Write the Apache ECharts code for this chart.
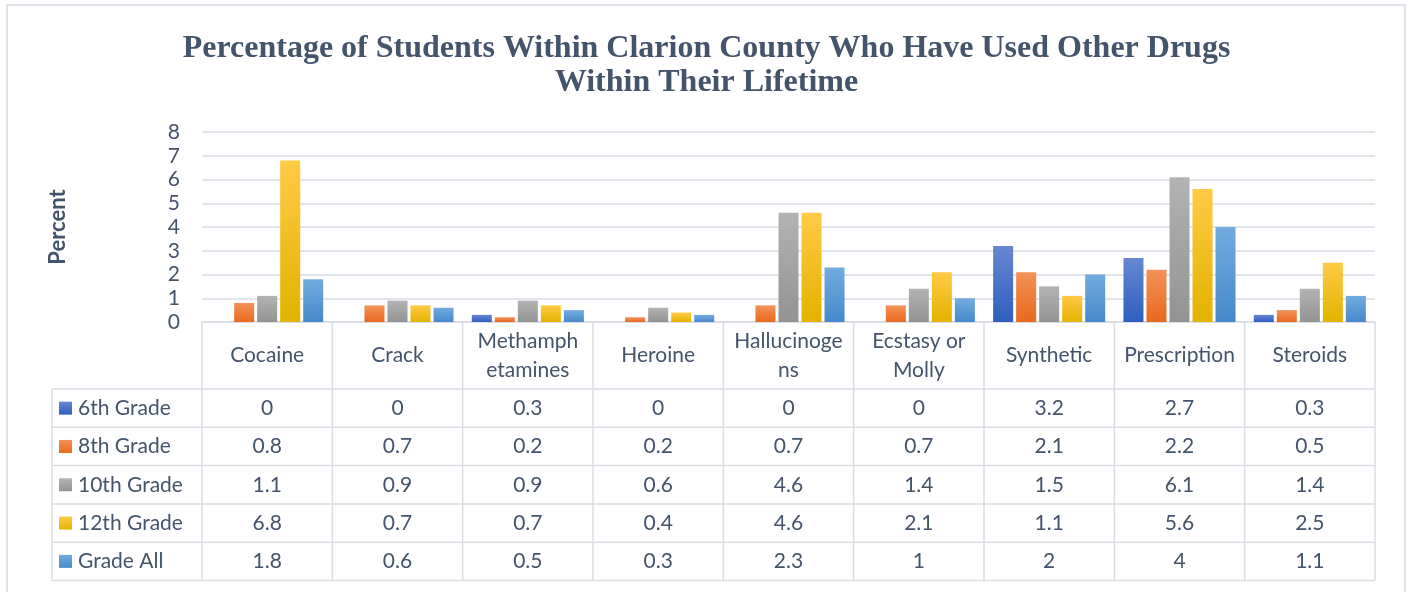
<!DOCTYPE html>
<html>
<head>
<meta charset="utf-8">
<title>Other Drugs</title>
<script type="text/javascript" src="https://cdn.jsdelivr.net/npm/echarts@6/dist/echarts.min.js"></script>
<style>
  body { margin: 0; background: #fff; }
  #main { width: 1413px; height: 592px; }
</style>
</head>
<body>
<div id="main"></div>
<script type="text/javascript">
// 数据
var categories = ['Cocaine', 'Crack', 'Methamph\netamines', 'Heroine', 'Hallucinoge\nns', 'Ecstasy or\nMolly', 'Synthetic', 'Prescription', 'Steroids'];
var seriesNames = ['6th Grade', '8th Grade', '10th Grade', '12th Grade', 'Grade All'];
var grade6 = [0, 0, 0.3, 0, 0, 0, 3.2, 2.7, 0.3];
var grade8 = [0.8, 0.7, 0.2, 0.2, 0.7, 0.7, 2.1, 2.2, 0.5];
var grade10 = [1.1, 0.9, 0.9, 0.6, 4.6, 1.4, 1.5, 6.1, 1.4];
var grade12 = [6.8, 0.7, 0.7, 0.4, 4.6, 2.1, 1.1, 5.6, 2.5];
var gradeAll = [1.8, 0.6, 0.5, 0.3, 2.3, 1, 2, 4, 1.1];
var yTicks = [0, 1, 2, 3, 4, 5, 6, 7, 8];

var allData = [grade6, grade8, grade10, grade12, gradeAll];
// 渐变色 (上浅下深)
var colors = [
  ['#6787d2', '#2f5fbf'],
  ['#f3925a', '#e8691b'],
  ['#b3b3b3', '#939393'],
  ['#ffca45', '#e4b200'],
  ['#73abdf', '#4689cb']
];

// 布局
var W = 1413, H = 592;
var gridL = 202, gridR = 1375, gridT = 132, gridB = 322;
var headerBottom = 389, rowH = 38.3, tableL = 52;
var colW = (gridR - gridL) / categories.length;
var textColor = '#44546a';
var lineColor = '#d9dde4';
var fontFam = 'Lato, "Open Sans", sans-serif';
var fs = 21;

var myChart = echarts.init(document.getElementById('main'));

var xAxes = [{
  type: 'category',
  data: categories,
  position: 'bottom',
  gridIndex: 0,
  axisLine: { show: true, lineStyle: { color: lineColor, width: 1.5 } },
  axisTick: { show: false },
  axisLabel: {
    interval: 0, color: textColor, fontSize: fs, fontFamily: fontFam,
    verticalAlign: 'middle', lineHeight: 29, margin: (gridB + headerBottom) / 2 - gridB
  }
}];
// 表格中的数值行
for (var i = 0; i < allData.length; i++) {
  xAxes.push({
    type: 'category',
    data: allData[i].map(function (v) { return String(v); }),
    position: 'bottom',
    offset: 0,
    gridIndex: 0,
    axisLine: { show: false },
    axisTick: { show: false },
    splitLine: { show: false },
    axisLabel: {
      interval: 0, color: textColor, fontSize: fs, fontFamily: fontFam,
      verticalAlign: 'middle', margin: headerBottom + rowH * i + rowH / 2 - gridB
    }
  });
}

var series = [];
for (var s = 0; s < allData.length; s++) {
  series.push({
    name: seriesNames[s],
    type: 'bar',
    xAxisIndex: 0,
    data: allData[s],
    barGap: '15%',
    barCategoryGap: '14%',
    itemStyle: {
      color: new echarts.graphic.LinearGradient(0, 0, 0, 1, [
        { offset: 0, color: colors[s][0] },
        { offset: 1, color: colors[s][1] }
      ])
    }
  });
}

// 表格线
var graphics = [{
  type: 'rect', silent: true, z: -1,
  shape: { x: 7, y: 5, width: 1398, height: 600 },
  style: { fill: '#fff', stroke: '#dfe3ea', lineWidth: 2 }
}];
for (var k = 0; k <= categories.length; k++) {
  var x = gridL + k * colW;
  graphics.push({ type: 'line', silent: true, shape: { x1: x, y1: gridB, x2: x, y2: headerBottom + rowH * allData.length }, style: { stroke: lineColor, lineWidth: 1.5 } });
}
graphics.push({ type: 'line', silent: true, shape: { x1: tableL, y1: headerBottom, x2: tableL, y2: headerBottom + rowH * allData.length }, style: { stroke: lineColor, lineWidth: 1.5 } });
for (var r = 0; r <= allData.length; r++) {
  var y = headerBottom + rowH * r;
  graphics.push({ type: 'line', silent: true, shape: { x1: tableL, y1: y, x2: gridR, y2: y }, style: { stroke: lineColor, lineWidth: 1.5 } });
}

var legendItemH = 21;
myChart.setOption({
  backgroundColor: '#fff',
  animation: false,
  title: {
    text: 'Percentage of Students Within Clarion County Who Have Used Other Drugs\nWithin Their Lifetime',
    left: 'center',
    top: 27,
    textStyle: {
      fontFamily: '"Liberation Serif", "Times New Roman", serif',
      fontWeight: 'bold', fontSize: 32, lineHeight: 34, color: textColor
    }
  },
  legend: {
    data: seriesNames,
    orient: 'vertical',
    left: 59,
    top: headerBottom + rowH / 2 - legendItemH / 2,
    padding: 0,
    itemWidth: 13,
    itemHeight: 13,
    itemGap: rowH - legendItemH,
    icon: 'rect',
    selectedMode: false,
    textStyle: { color: textColor, fontSize: fs, fontFamily: fontFam, lineHeight: 20, padding: [0, 0, 0, 1] }
  },
  grid: { left: gridL, right: W - gridR, top: gridT, bottom: H - gridB, containLabel: false },
  xAxis: xAxes,
  yAxis: {
    type: 'value',
    min: yTicks[0],
    max: yTicks[yTicks.length - 1],
    interval: 1,
    name: 'Percent',
    nameLocation: 'middle',
    nameRotate: 90,
    nameGap: gridL - 69,
    nameTextStyle: { color: textColor, fontSize: 22, fontWeight: 'bold', fontFamily: fontFam },
    axisLine: { show: false },
    axisTick: { show: false },
    axisLabel: { color: textColor, fontSize: fs, fontFamily: fontFam, margin: 22 },
    splitLine: { lineStyle: { color: lineColor, width: 1.5 } }
  },
  graphic: graphics,
  series: series
});
</script>
</body>
</html>
